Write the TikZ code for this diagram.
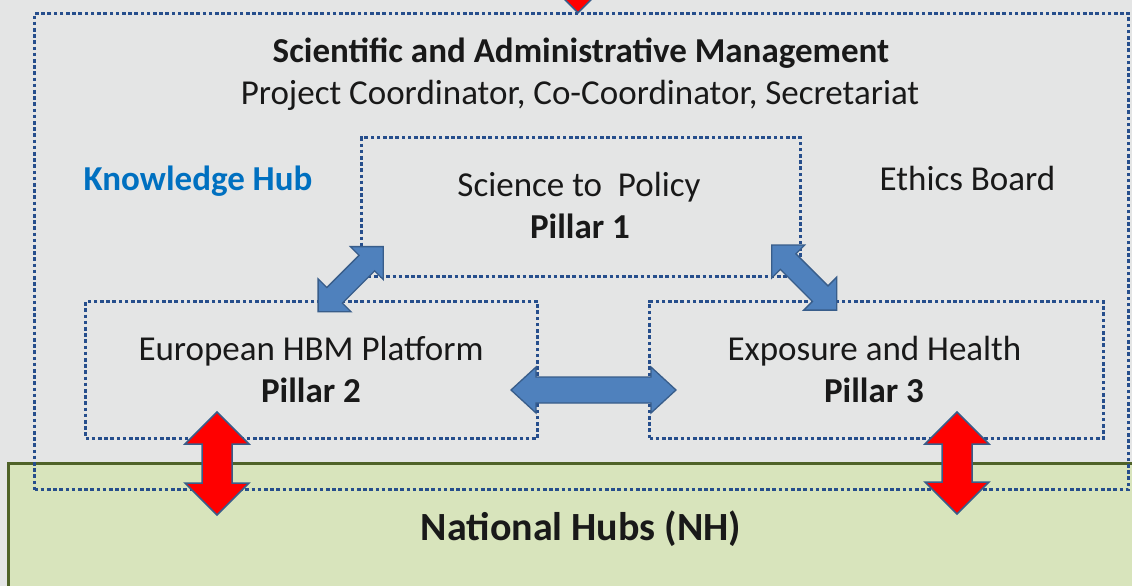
\documentclass[tikz,border=0pt]{standalone}
\usepackage{fontspec}
\setmainfont{Carlito}
\definecolor{bg}{RGB}{228,229,229}
\definecolor{dotc}{RGB}{38,78,140}
\definecolor{nhfill}{RGB}{216,228,188}
\definecolor{nhline}{RGB}{79,98,40}
\definecolor{bluefill}{RGB}{79,129,189}
\definecolor{blueline}{RGB}{56,93,138}
\definecolor{khblue}{RGB}{0,112,192}
\definecolor{txtc}{RGB}{25,25,25}
\tikzset{
  dotbox/.style={draw=dotc, line width=3pt, dash pattern=on 3.6pt off 2.6pt, inner sep=0pt, anchor=north west},
  bluearr/.style={fill=bluefill, draw=blueline, line width=1.3pt, line join=miter},
  redarr/.style={fill=red, draw=blueline, line width=1.5pt, line join=miter},
  txt/.style={anchor=base, font=\fontsize{35}{42}\selectfont, text=txtc, inner sep=0pt},
  btxt/.style={txt, font=\fontsize{35}{42}\selectfont\bfseries},
}
\newcommand\dblarrow[7]{%
  \begin{scope}[shift={#1},rotate=#2]
    \draw[#7] (#3,0) -- ({#3-#5},#6) -- ({#3-#5},#4) -- ({-#3+#5},#4) -- ({-#3+#5},#6) -- (-#3,0)
      -- ({-#3+#5},-#6) -- ({-#3+#5},-#4) -- ({#3-#5},-#4) -- ({#3-#5},-#6) -- cycle;
  \end{scope}}
\begin{document}
\begin{tikzpicture}[x=1pt,y=-1pt]
  \useasboundingbox (0,0) rectangle (1132,586);
  \fill[bg] (0,0) rectangle (1132,586);
  % National hubs area
  \begin{scope}
    \clip (0,0) rectangle (1132,586);
    \draw[fill=nhfill, draw=nhline, line width=3pt] (8,463) rectangle (1150,610);
  \end{scope}
  % Dotted boxes
  \node[dotbox, minimum width=1094pt, minimum height=476pt] (kh) at (33,12) {};
  \node[dotbox, minimum width=439pt, minimum height=139pt] (p1) at (360,136) {};
  \node[dotbox, minimum width=452pt, minimum height=137pt] (p2) at (84,300) {};
  \node[dotbox, minimum width=454pt, minimum height=137pt] (p3) at (648,300) {};
  % Arrow centres
  \coordinate (a12) at (350.7,279.2);
  \coordinate (a13) at (804.2,277.6);
  \coordinate (a23) at (593.5,390);
  \coordinate (r2) at (217,463.5);
  \coordinate (r3) at (957,463);
  \dblarrow{(a12)}{45}{46.1}{11}{23.3}{23.3}{bluearr}
  \dblarrow{(a13)}{-45}{46}{11}{23.3}{23.3}{bluearr}
  \dblarrow{(a23)}{0}{82.5}{13}{25}{23}{bluearr}
  \dblarrow{(r2)}{90}{51.5}{15}{32}{32}{redarr}
  \dblarrow{(r3)}{90}{51}{15}{32}{32}{redarr}
  % incoming red arrow from above
  \begin{scope}
    \clip (0,0) rectangle (1132,586);
    \coordinate (topin) at (578,12.7);
    \draw[redarr] (topin) -- ++(32,-32) -- ++(-17,0) -- ++(0,-40) -- ++(-30,0) -- ++(0,40) -- ++(-17,0) -- cycle;
  \end{scope}
  % Texts
  \node[btxt] (title) at (581,63) {Scientific and Administrative Management};
  \node[txt] (sub) at (580,104) {Project Coordinator, Co-Coordinator, Secretariat};
  \node[btxt, text=khblue] (khlabel) at (198,190) {Knowledge Hub};
  \node[txt] (ethics) at (967.5,190) {Ethics Board};
  \node[txt] (p1a) at (579,196) {Science to\ \ Policy};
  \node[btxt] (p1b) at (580,238) {Pillar 1};
  \node[txt] (p2a) at (311,360) {European HBM Platform};
  \node[btxt] (p2b) at (311,402) {Pillar 2};
  \node[txt] (p3a) at (874.5,360) {Exposure and Health};
  \node[btxt] (p3b) at (874,402) {Pillar 3};
  \node[btxt, font=\fontsize{40}{48}\selectfont\bfseries] (nh) at (581,540) {National Hubs (NH)};
\end{tikzpicture}
\end{document}
